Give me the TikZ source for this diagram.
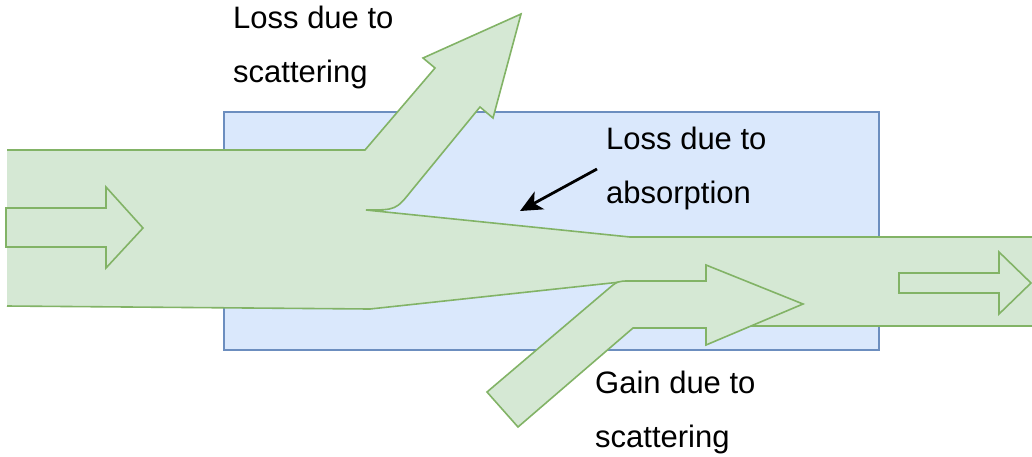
\documentclass[tikz,border=0pt]{standalone}
\usepackage{fontspec}
\setmainfont{Liberation Sans}
\usetikzlibrary{arrows.meta}
\definecolor{flowfill}{HTML}{D5E8D4}
\definecolor{flowline}{HTML}{82B366}
\definecolor{slabfill}{HTML}{DAE8FC}
\definecolor{slabline}{HTML}{6C8EBF}
\tikzset{
  flow/.style={fill=flowfill, draw=flowline, line width=1.6pt, line join=miter},
  flowfillonly/.style={fill=flowfill},
  flowedge/.style={draw=flowline, line width=1.6pt, line join=miter},
  slab/.style={fill=slabfill, draw=slabline, line width=1.6pt},
  label/.style={inner sep=0pt, align=left, anchor=base west,
    font=\fontsize{31}{54}\selectfont},
  pointer/.style={draw=black, line width=2.8pt,
    -{Stealth[length=22pt, width=20pt, inset=6pt]}}
}
\begin{document}
\begin{tikzpicture}[x=1pt, y=-1pt]
  \useasboundingbox (0,0) rectangle (1032,456);
  \clip (0,0) rectangle (1032,456);

  % the medium
  \path[slab] (224,112) rectangle (879,350);

  % incoming beam, scattered-out branch and transmitted beam
  % (filled as one region; the open left end carries no outline)
  \path[flowfillonly] (7,150) -- (365,150) -- (435,68) -- (423,58) -- (521,14)
    -- (493,118) -- (480,107) -- (412,190) .. controls (396,210) .. (366,210)
    -- (630,237) -- (1045,237) -- (1045,326) -- (705,326) -- (705,281)
    -- (630,281) -- (370,309) -- (7,306) -- cycle;
  \path[flowedge] (7,150) -- (365,150) -- (435,68) -- (423,58) -- (521,14)
    -- (493,118) -- (480,107) -- (412,190) .. controls (396,210) .. (366,210)
    -- (630,237) -- (1045,237);
  \path[flowedge] (1045,326) -- (705,326) -- (705,281)
    -- (630,281) -- (370,309) -- (7,306);

  % direction markers inside the beam
  \path[flow] (6,208) -- (106,208) -- (106,187) -- (143,228) -- (106,268)
    -- (106,247) -- (6,247) -- cycle;
  \path[flow] (899,273) -- (999,273) -- (999,252) -- (1031,283) -- (999,314)
    -- (999,293) -- (899,293) -- cycle;

  % scattered-in branch
  \path[flow] (487,392) -- (607,290) .. controls (617.5,281) .. (630,281)
    -- (706,281) -- (706,265) -- (803,304) -- (706,345) -- (706,328)
    -- (633,328) -- (518,427) -- cycle;

  % labels (anchored at the baseline of their last line)
  \node[label] (lossscat) at (233,82) {Loss due to\\scattering};
  \node[label] (lossabs) at (606,203) {Loss due to\\absorption};
  \node[label] (gainscat) at (595,447) {Gain due to\\scattering};

  % absorption pointer
  \coordinate (ptrstart) at (597,169);
  \coordinate (ptrend) at (520,211);
  \draw[pointer] (ptrstart) -- (ptrend);
\end{tikzpicture}
\end{document}
